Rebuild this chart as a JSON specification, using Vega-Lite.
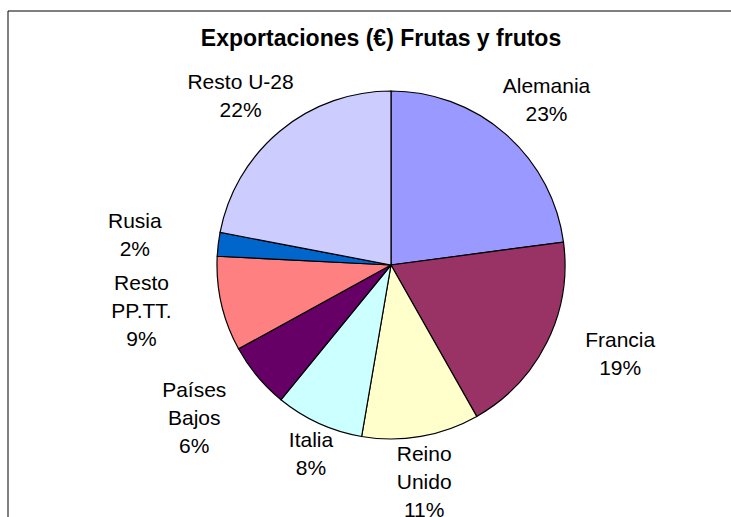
{
  "$schema": "https://vega.github.io/schema/vega-lite/v6.json",
  "autosize": "none",
  "padding": {"left": 8, "top": 11, "right": 0, "bottom": 0},
  "width": 766,
  "height": 508,
  "background": "white",
  "view": {"stroke": null},
  "title": {
    "text": "Exportaciones (€) Frutas y frutos",
    "font": "Liberation Sans",
    "fontSize": 23,
    "fontWeight": "bold",
    "color": "black",
    "anchor": "middle",
    "frame": "group",
    "baseline": "alphabetic",
    "offset": -37,
    "dy": 21,
    "dx": -10
  },
  "config": {
    "text": {
      "font": "Liberation Sans",
      "fontSize": 21,
      "lineHeight": 28,
      "align": "center",
      "baseline": "middle",
      "color": "black",
      "lineBreak": "\n"
    }
  },
  "datasets": {
    "exportaciones": [
      {"order": 1, "pais": "Alemania", "valor": 22.9, "label": "Alemania\n23%"},
      {"order": 2, "pais": "Francia", "valor": 18.9, "label": "Francia\n19%"},
      {"order": 3, "pais": "Reino Unido", "valor": 10.9, "label": "Reino\nUnido\n11%"},
      {"order": 4, "pais": "Italia", "valor": 8.2, "label": "Italia\n8%"},
      {"order": 5, "pais": "Países Bajos", "valor": 6.1, "label": "Países\nBajos\n6%"},
      {"order": 6, "pais": "Resto PP.TT.", "valor": 8.8, "label": "Resto\nPP.TT.\n9%"},
      {"order": 7, "pais": "Rusia", "valor": 2.2, "label": "Rusia\n2%"},
      {"order": 8, "pais": "Resto U-28", "valor": 22.0, "label": "Resto U-28\n22%"}
    ],
    "marco": [{"marco": 1}]
  },
  "layer": [
    {
      "data": {"name": "marco"},
      "mark": {"type": "rect", "fill": null, "fillOpacity": 0, "stroke": "black", "strokeWidth": 1}
    },
    {
      "data": {"name": "exportaciones"},
      "encoding": {
        "theta": {"field": "valor", "type": "quantitative", "stack": true},
        "order": {"field": "order", "type": "quantitative", "sort": "ascending"}
      },
      "layer": [
        {
          "mark": {"type": "arc", "outerRadius": 174, "stroke": "black", "strokeWidth": 1.2},
          "encoding": {
            "color": {
              "field": "pais",
              "type": "nominal",
              "scale": {
                "domain": ["Alemania", "Francia", "Reino Unido", "Italia", "Países Bajos", "Resto PP.TT.", "Rusia", "Resto U-28"],
                "range": ["#9999FF", "#993366", "#FFFFCC", "#CCFFFF", "#660066", "#FF8080", "#0066CC", "#CCCCFF"]
              },
              "legend": null
            }
          }
        },
        {
          "mark": {"type": "text", "radius": 236},
          "encoding": {
            "text": {
              "condition": {"test": "indexof(['Alemania', 'Resto U-28'], datum.pais) >= 0", "field": "label"},
              "value": ""
            }
          }
        },
        {
          "mark": {"type": "text", "radius": 193},
          "encoding": {
            "text": {
              "condition": {"test": "indexof(['Reino Unido', 'Italia'], datum.pais) >= 0", "field": "label"},
              "value": ""
            }
          }
        },
        {
          "mark": {"type": "text", "radius": 258, "dy": -12},
          "encoding": {
            "text": {
              "condition": {"test": "datum.pais === 'Rusia'", "field": "label"},
              "value": ""
            }
          }
        },
        {
          "mark": {"type": "text", "radius": 256, "dy": -38},
          "encoding": {
            "text": {
              "condition": {"test": "indexof(['Francia', 'Países Bajos', 'Resto PP.TT.'], datum.pais) >= 0", "field": "label"},
              "value": ""
            }
          }
        }
      ]
    }
  ]
}
